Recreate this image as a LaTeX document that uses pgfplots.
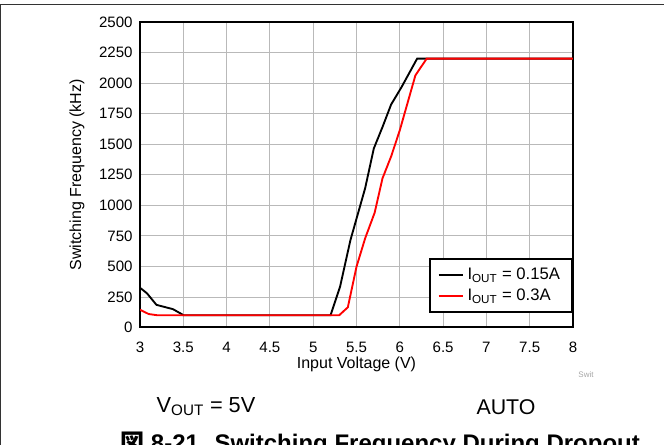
\documentclass[border=0pt]{standalone}
\usepackage{pgfplots}
\pgfplotsset{compat=1.18}
\usepackage{fontspec}
\setmainfont{Liberation Sans}
\newfontfamily\cjk{Noto Sans CJK JP}
\begin{document}
\begin{tikzpicture}
\useasboundingbox (0,0) rectangle (498pt,-333.75pt);
\draw[line width=1pt, black!80] (0,-3.2pt) -- (498pt,-3.2pt);
\draw[line width=1pt, black!80] (0.5pt,-3.2pt) -- (0.5pt,-345pt);
\begin{axis}[at={(105pt,-16.5pt)}, anchor=north west, scale only axis,
 width=324.75pt, height=229.1pt,
 xmin=3, xmax=8, ymin=0, ymax=2500,
 xtick={3,3.5,4,4.5,5,5.5,6,6.5,7,7.5,8},
 ytick={0,250,500,750,1000,1250,1500,1750,2000,2250,2500},
 grid=major, major grid style={gray!55, line width=0.6pt},
 axis line style={line width=1.5pt},
 tick style={draw=none},
 /pgf/number format/assume math mode=true,
 /pgf/number format/1000 sep={},
 ticklabel style={font=\fontsize{11.3}{13}\selectfont},
 xticklabel style={yshift=-7.5pt},
 yticklabel style={xshift=-2pt},
 xlabel={Input Voltage (V)}, ylabel={Switching Frequency (kHz)},
 label style={font=\fontsize{12}{14}\selectfont},
 xlabel style={at={(axis description cs:0.5,0)}, anchor=center, yshift=-27.4pt},
 ylabel style={at={(axis description cs:0,0.5)}, anchor=center, yshift=47.25pt},
 legend cell align=left,
 legend image code/.code={\draw[#1] (0pt,0pt) -- (18pt,0pt);},
 legend style={at={(1,0.0475)}, anchor=south east, draw=black, line width=1.5pt,
   font=\fontsize{12.5}{14}\selectfont, inner xsep=6pt, inner ysep=5pt, row sep=1.5pt,
   nodes={inner xsep=3pt}},
]
\addplot[black, line width=1.4pt] coordinates {
(3.0,325) (3.08,280) (3.19,185) (3.38,150) (3.48,110) (3.5,100)
(5.2,100) (5.31,333) (5.43,715) (5.54,990) (5.6,1140) (5.7,1465)
(5.8,1640) (5.9,1825) (6.02,1967) (6.2,2200) (8,2200)};
\addlegendentry{I\textsubscript{OUT} = 0.15A}
\addplot[red, line width=1.4pt] coordinates {
(3.0,145) (3.1,110) (3.2,100) (5.3,100) (5.4,165) (5.5,497) (5.6,730)
(5.71,940) (5.8,1220) (5.9,1400) (6.0,1614) (6.18,2063) (6.31,2200) (8,2200)};
\addlegendentry{I\textsubscript{OUT} = 0.3A}
\end{axis}
\node[font=\fontsize{16.3}{18}\selectfont] at (154.5pt,-305pt) {V\textsubscript{OUT} = 5V};
\node[font=\fontsize{16}{18}\selectfont] at (379.5pt,-305pt) {AUTO};
\node[font=\fontsize{6}{7}\selectfont, text=gray!70] at (439.5pt,-281pt) {Swit};
\node[anchor=base west, font=\fontsize{18}{20}\selectfont\bfseries, inner sep=0pt] at (90pt,-338.5pt) {{\cjk 図} 8-21. Switching Frequency During Dropout};
\end{tikzpicture}
\end{document}
